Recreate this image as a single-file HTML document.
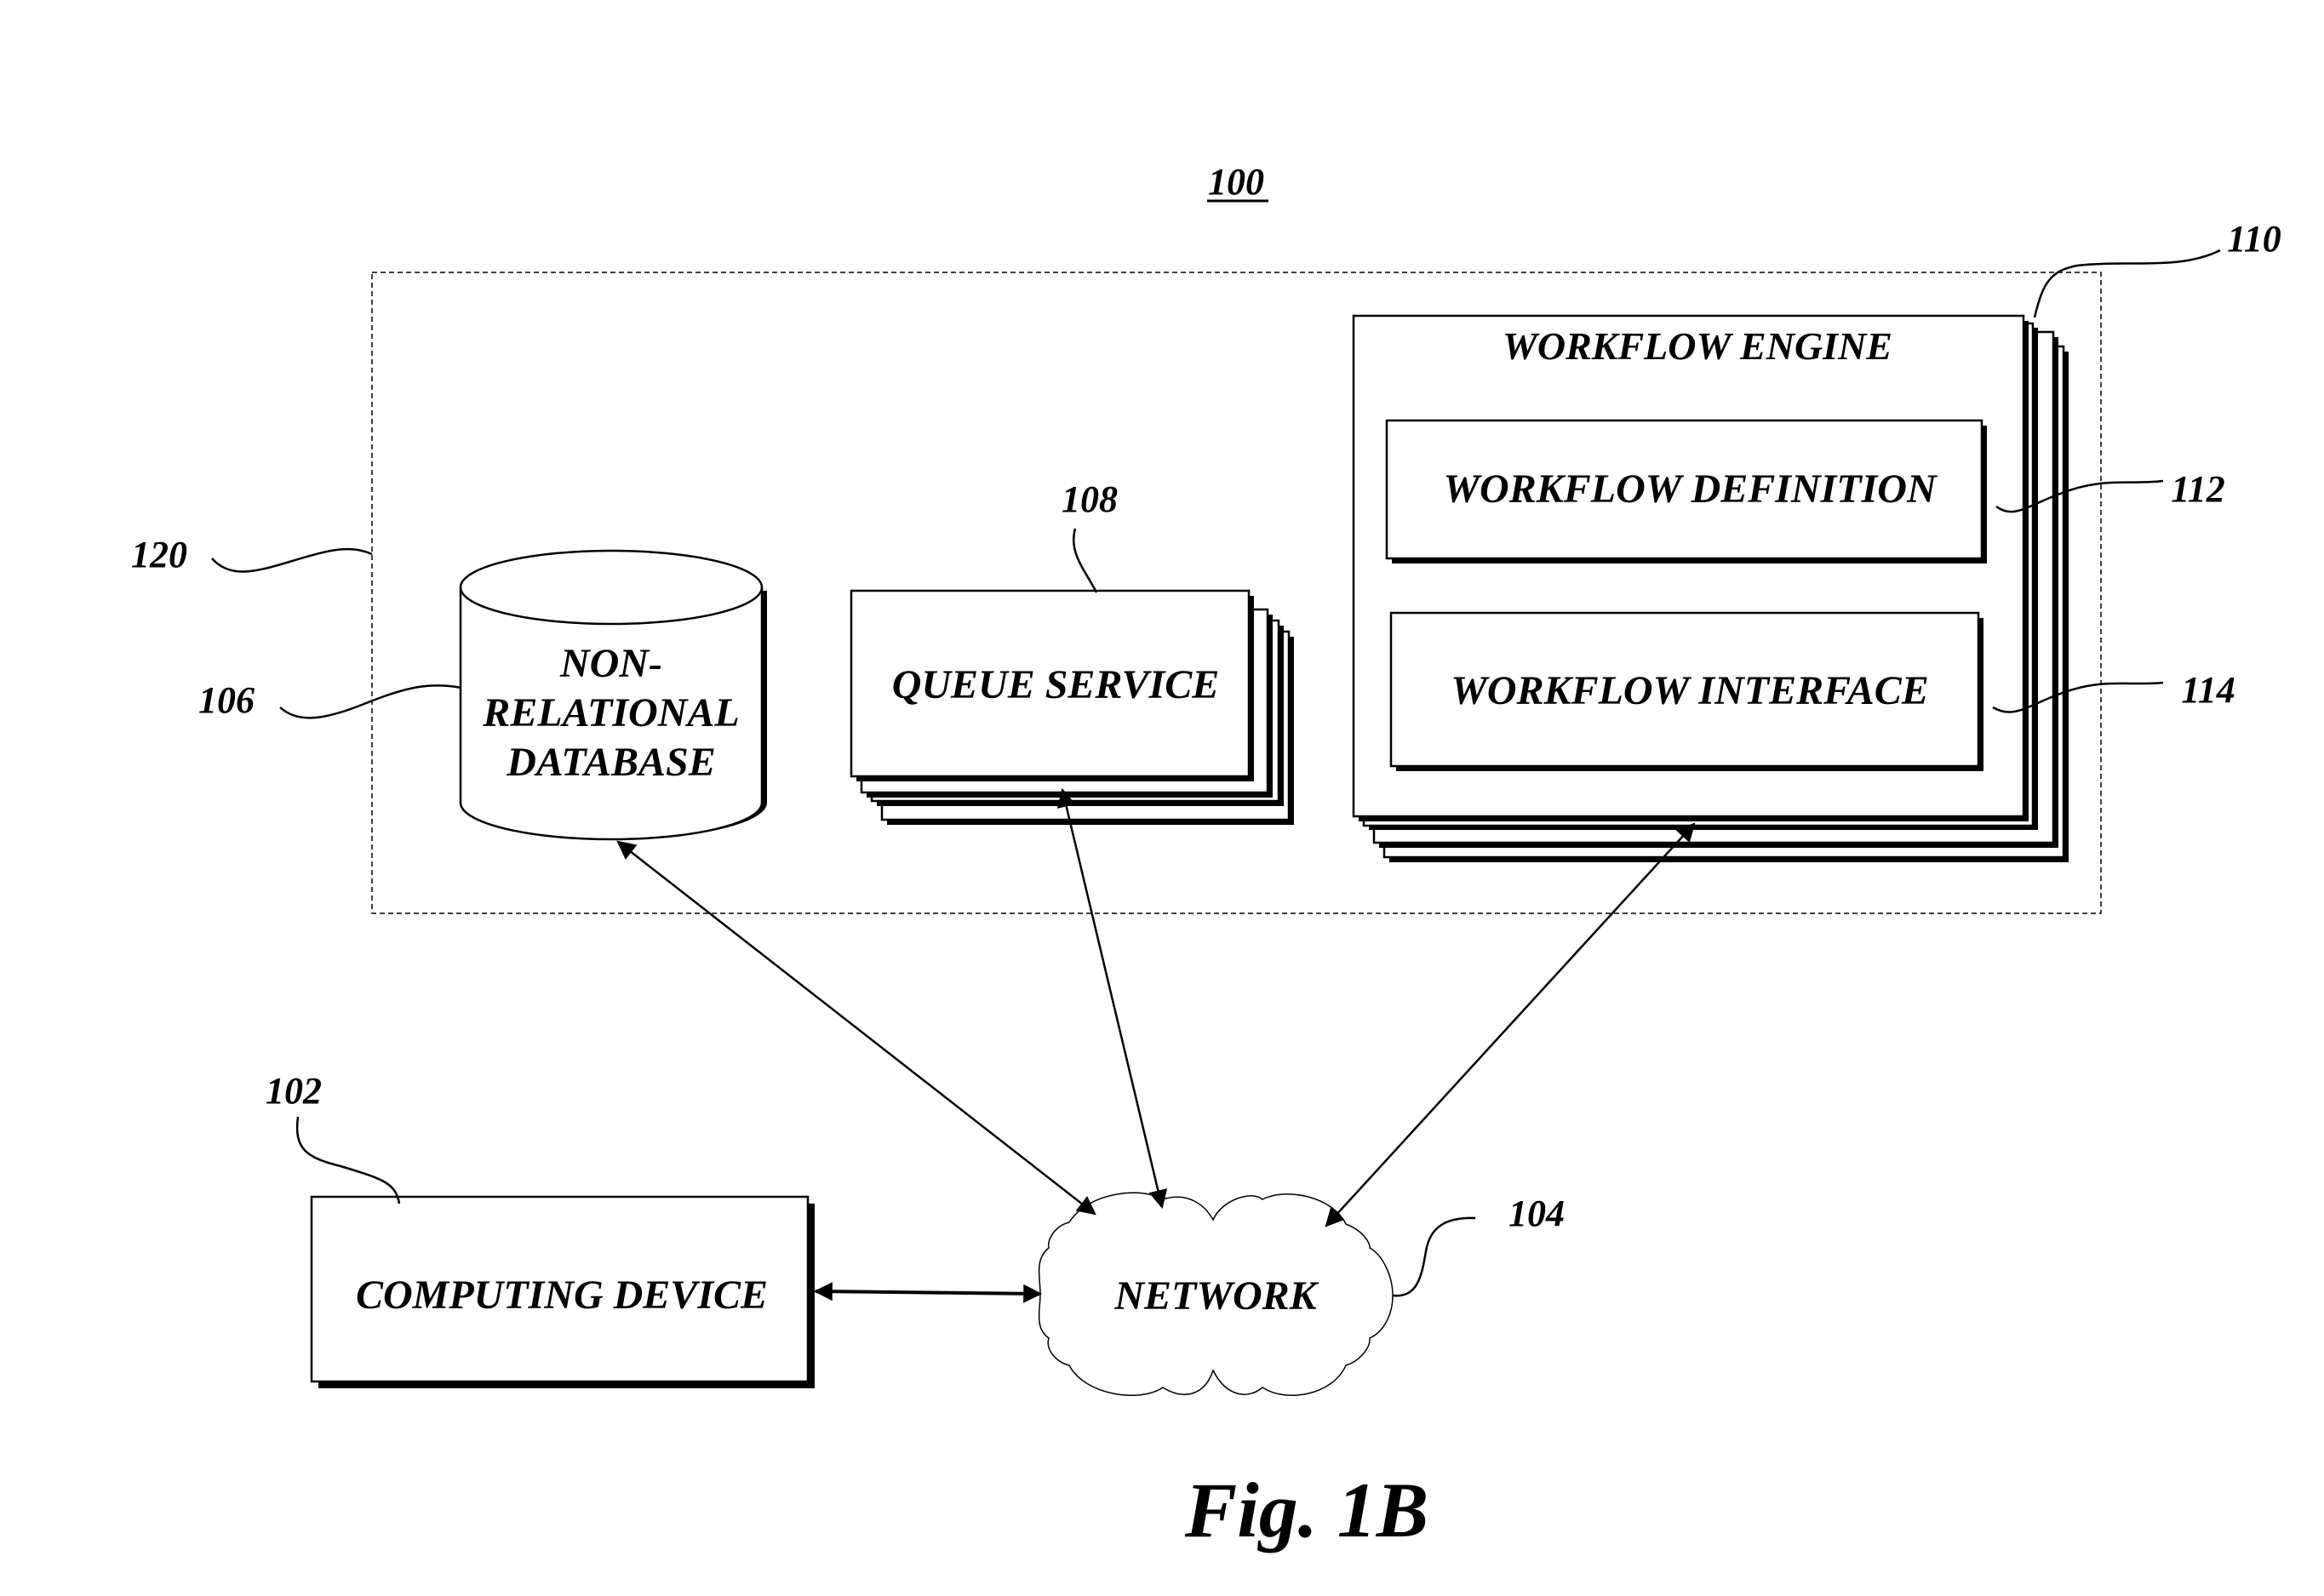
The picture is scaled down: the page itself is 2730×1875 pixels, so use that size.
<!DOCTYPE html>
<html><head><meta charset="utf-8"><style>
html,body{margin:0;padding:0;background:#fff}
svg{display:block}
text{font-family:"Liberation Serif",serif;font-weight:bold;font-style:italic;fill:#000}
</style></head><body>
<svg width="2730" height="1875" viewBox="0 0 2730 1875" xmlns="http://www.w3.org/2000/svg">
<defs>
<marker id="ah2" viewBox="0 0 10 10" refX="9" refY="5" markerWidth="30" markerHeight="22" markerUnits="userSpaceOnUse" orient="auto-start-reverse">
<path d="M0,0 L10,5 L0,10 z" fill="#000"/></marker>
</defs>
<rect x="437" y="320" width="2031" height="753" fill="none" stroke="#000" stroke-dasharray="6,4" stroke-width="1.5"/>
<text x="1452" y="228" font-size="44" text-anchor="middle">100</text>
<line x1="1418" y1="236" x2="1490" y2="236" stroke="#000" stroke-width="3"/>

<g stroke="#000" stroke-width="2.5" fill="#fff">
<rect x="1632" y="413" width="798" height="600" fill="#000" stroke="none"/>
<rect x="1626" y="407" width="798" height="600"/>
<rect x="1620" y="396" width="798" height="600" fill="#000" stroke="none"/>
<rect x="1614" y="390" width="798" height="600"/>
<rect x="1608" y="385" width="786" height="590" fill="#000" stroke="none"/>
<rect x="1602" y="380" width="786" height="590"/>
<rect x="1596" y="377" width="787" height="588" fill="#000" stroke="none"/>
<rect x="1590" y="371" width="787" height="588"/>
</g>
<text x="1994" y="422" font-size="46" text-anchor="middle">WORKFLOW ENGINE</text>
<g stroke="#000" stroke-width="2.5" fill="#fff">
<rect x="1635" y="500" width="699" height="162" fill="#000" stroke="none"/>
<rect x="1629" y="494" width="699" height="162"/>
<rect x="1640" y="726" width="690" height="180" fill="#000" stroke="none"/>
<rect x="1634" y="720" width="690" height="180"/>
</g>
<text x="1985" y="590" font-size="48" text-anchor="middle">WORKFLOW DEFINITION</text>
<text x="1985" y="827" font-size="48" text-anchor="middle">WORKFLOW INTERFACE</text>

<g stroke="#000" stroke-width="2.5" fill="#fff">
<rect x="1042" y="748" width="478" height="221" fill="#000" stroke="none"/>
<rect x="1036" y="742" width="478" height="221"/>
<rect x="1030" y="735" width="478" height="212" fill="#000" stroke="none"/>
<rect x="1024" y="729" width="478" height="212"/>
<rect x="1018" y="722" width="477" height="215" fill="#000" stroke="none"/>
<rect x="1012" y="716" width="477" height="215"/>
<rect x="1006" y="700" width="467" height="218" fill="#000" stroke="none"/>
<rect x="1000" y="694" width="467" height="218"/>
</g>
<text x="1240" y="820" font-size="48" text-anchor="middle">QUEUE SERVICE</text>

<path d="M547,694 L547,943 A177,43 0 0 0 901,943 L901,694" fill="#000"/>
<path d="M541,690 L541,943 A177,43 0 0 0 895,943 L895,690 A177,43 0 0 0 541,690 z" fill="#fff" stroke="#000" stroke-width="2.5"/>
<path d="M541,690 A177,43 0 0 0 895,690" fill="none" stroke="#000" stroke-width="2.5"/>
<text x="718" y="795" font-size="48" text-anchor="middle">NON-</text>
<text x="718" y="853" font-size="48" text-anchor="middle">RELATIONAL</text>
<text x="718" y="911" font-size="48" text-anchor="middle">DATABASE</text>

<rect x="374" y="1414" width="583" height="217" fill="#000"/>
<rect x="366" y="1406" width="583" height="217" fill="#fff" stroke="#000" stroke-width="2.5"/>
<text x="660" y="1537" font-size="48" text-anchor="middle">COMPUTING DEVICE</text>

<path d="M1256,1436 C1280,1398 1345,1395 1366,1409 C1395,1400 1415,1415 1425,1433 C1435,1410 1470,1398 1483,1409 C1510,1395 1565,1405 1581,1438 C1600,1445 1610,1460 1609,1466 C1625,1475 1636,1500 1636,1522 C1636,1545 1625,1565 1609,1572 C1610,1585 1595,1600 1581,1604 C1565,1640 1510,1648 1483,1630 C1465,1645 1440,1640 1425,1610 C1415,1640 1390,1645 1366,1630 C1340,1648 1275,1640 1256,1604 C1240,1600 1228,1585 1232,1572 C1215,1560 1222,1540 1222,1520 C1222,1500 1215,1480 1232,1466 C1230,1455 1240,1440 1256,1436 z" fill="#fff" stroke="#000" stroke-width="1.5"/>
<text x="1428" y="1538" font-size="48" text-anchor="middle">NETWORK</text>

<g stroke="#000" stroke-width="2.5" fill="none">
<line x1="958" y1="1517" x2="1222" y2="1520" stroke-width="4" marker-start="url(#ah2)" marker-end="url(#ah2)"/>
<line x1="726" y1="989" x2="1286" y2="1426" marker-start="url(#ah2)" marker-end="url(#ah2)"/>
<line x1="1248" y1="928" x2="1365" y2="1418" marker-start="url(#ah2)" marker-end="url(#ah2)"/>
<line x1="1990" y1="968" x2="1558" y2="1440" marker-start="url(#ah2)" marker-end="url(#ah2)"/>
<path d="M2390,373 C2400,330 2410,318 2440,312 C2500,305 2560,318 2608,294"/>
<path d="M2345,595 C2365,610 2380,595 2420,580 C2470,560 2500,570 2541,565"/>
<path d="M2341,831 C2365,845 2380,830 2420,815 C2470,796 2500,806 2541,802"/>
<path d="M249,656 C270,680 300,672 340,660 C390,645 410,640 437,651"/>
<path d="M329,831 C350,850 380,845 420,830 C470,810 500,800 542,808"/>
<path d="M1263,621 C1255,650 1275,670 1288,696"/>
<path d="M350,1312 C345,1350 360,1360 400,1370 C450,1385 465,1390 469,1414"/>
<path d="M1636,1522 C1665,1525 1670,1500 1675,1470 C1680,1440 1700,1430 1733,1431"/>
</g>

<text x="2648" y="295" font-size="44" text-anchor="middle">110</text>
<text x="2582" y="589" font-size="44" text-anchor="middle">112</text>
<text x="2594" y="825" font-size="44" text-anchor="middle">114</text>
<text x="1280" y="601" font-size="44" text-anchor="middle">108</text>
<text x="187" y="666" font-size="44" text-anchor="middle">120</text>
<text x="266" y="837" font-size="44" text-anchor="middle">106</text>
<text x="345" y="1296" font-size="44" text-anchor="middle">102</text>
<text x="1805" y="1440" font-size="44" text-anchor="middle">104</text>
<text x="1535" y="1805" font-size="92" text-anchor="middle">Fig. 1B</text>
</svg>
</body></html>
